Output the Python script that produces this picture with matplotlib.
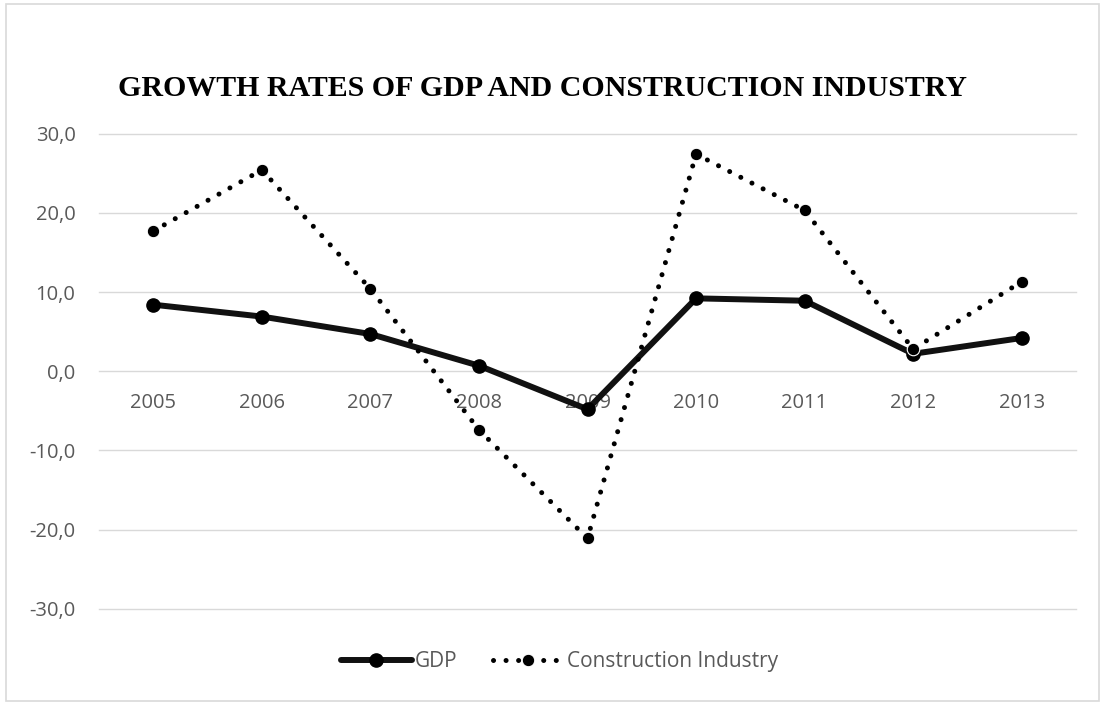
import matplotlib
matplotlib.use('Agg')
import matplotlib.pyplot as plt
from matplotlib.patches import Rectangle
import numpy as np

years = ['2005', '2006', '2007', '2008', '2009', '2010', '2011', '2012', '2013']
gdp = [8.4, 6.9, 4.7, 0.7, -4.8, 9.2, 8.9, 2.2, 4.2]
construction = [17.7, 25.4, 10.4, -7.4, -21.1, 27.4, 20.3, 2.8, 11.3]
y_ticks = [-30, -20, -10, 0, 10, 20, 30]

grey_text = '#595959'
grid_col = '#d9d9d9'

fig = plt.figure(figsize=(11.03, 7.02), dpi=100)
ax = fig.add_axes([0.0898, 0.1325, 0.8857, 0.6773])

x = np.arange(len(years))

# horizontal gridlines
for t in y_ticks:
    ax.axhline(t, color=grid_col, linewidth=1.0, zorder=0, clip_on=False)

ax.plot(x, gdp, color='#111111', linewidth=4.3, solid_capstyle='round',
        marker='o', markersize=9.5, markerfacecolor='black',
        markeredgecolor='black', label='GDP', zorder=3)
ax.plot(x, construction, color='black', linewidth=3.6,
        linestyle=(0, (0.01, 2.5)), dash_capstyle='round',
        marker='o', markersize=9, markerfacecolor='black',
        markeredgecolor='white', markeredgewidth=0.8,
        label='Construction Industry', zorder=4)

ax.set_xlim(-0.5, len(years) - 0.5)
ax.set_ylim(-30, 30)
ax.set_yticks(y_ticks)
ax.set_yticklabels([f'{t:.1f}'.replace('.', ',') for t in y_ticks])
ax.set_xticks(x)
ax.set_xticklabels(years)

# category labels sit along the zero line
ax.spines['bottom'].set_position(('data', 0))
for s in ax.spines.values():
    s.set_visible(False)
ax.tick_params(axis='x', length=0, pad=16, labelsize=14.5, labelcolor=grey_text)
ax.tick_params(axis='y', length=0, pad=17, labelsize=14.5, labelcolor=grey_text)
for lbl in ax.get_xticklabels() + ax.get_yticklabels():
    lbl.set_fontfamily('Open Sans')

fig.text(0.4918, 0.874, 'GROWTH RATES OF GDP AND CONSTRUCTION INDUSTRY',
         ha='center', va='center', fontsize=21.5, fontweight='bold',
         family='Liberation Serif', color='black')

leg = fig.legend(loc='center', bbox_to_anchor=(0.507, 0.057), ncol=2,
                 frameon=False, handlelength=3.4, handletextpad=0.15,
                 columnspacing=1.7, prop={'family': 'Open Sans', 'size': 15})
for t in leg.get_texts():
    t.set_color(grey_text)

# light chart border
fig.patches.append(Rectangle((6 / 1103, 1 / 702), 1093 / 1103, 697 / 702,
                             transform=fig.transFigure, fill=False,
                             edgecolor=grid_col, linewidth=1.2))

fig.savefig('out.png', dpi=100, facecolor='white')
